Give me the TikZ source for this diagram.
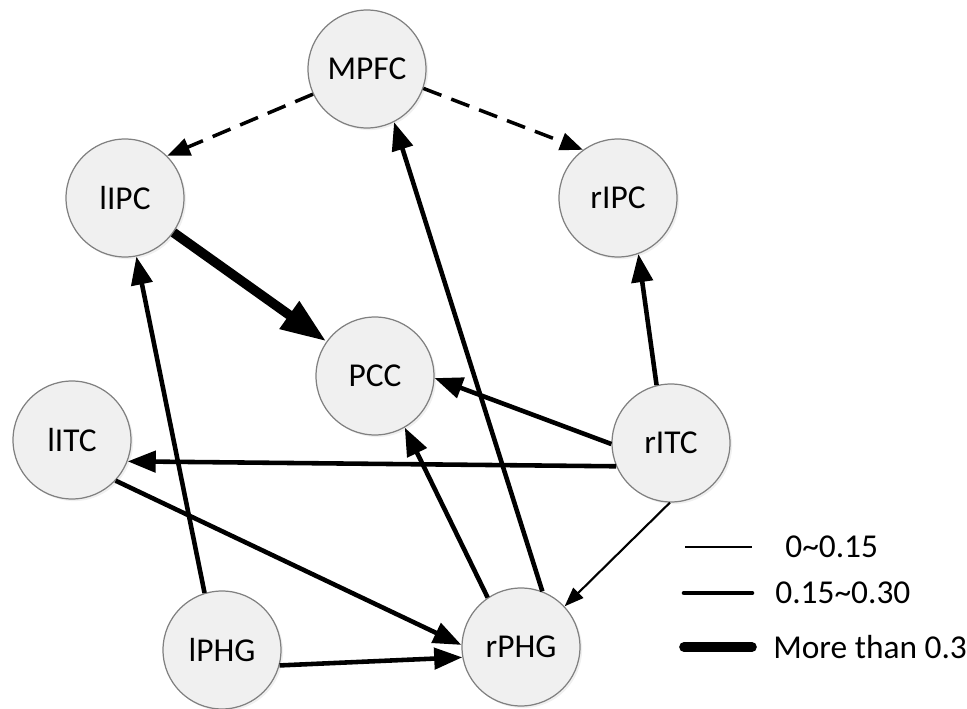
\documentclass[tikz,border=0pt]{standalone}
\usepackage{fontspec}
\setmainfont{Carlito}
\usetikzlibrary{arrows.meta}
\usetikzlibrary{shadows}

\begin{document}
\begin{tikzpicture}[%%
  x=0.02cm,y=-0.02cm,%%
  regionStyle/.style={circle,draw=black!50,fill=black!6,line width=0.7pt,%%
    minimum size=2.36cm,inner sep=0pt,font=\fontsize{19}{23}\selectfont,%%
    drop shadow={opacity=0.12,shadow xshift=1.2pt,shadow yshift=-1.2pt}},%%
  thinStyle/.style={line width=1.2pt,-{Triangle[length=11pt,width=8pt]}},%%
  midStyle/.style={line width=2.6pt,-{Triangle[length=16pt,width=12pt]}},%%
  thickStyle/.style={line width=5.5pt,-{Triangle[length=26pt,width=18pt]}},%%
  dashStyle/.style={line width=2pt,dash pattern=on 11pt off 6pt,%%
    -{Triangle[length=13pt,width=10pt]}},%%
  legendStyle/.style={anchor=west,inner sep=0pt,font=\fontsize{19}{23}\selectfont}%%
]
%%
\useasboundingbox (0,0) rectangle (967,709);
%%
%% The regions.
\node[regionStyle] (MPFC) at (367,69) {MPFC};
\node[regionStyle] (lIPC) at (125,198) {lIPC};
\node[regionStyle] (rIPC) at (618,198) {rIPC};
\node[regionStyle] (PCC) at (375,376) {PCC};
\node[regionStyle] (lITC) at (72,440) {lITC};
\node[regionStyle] (rITC) at (671,443) {rITC};
\node[regionStyle] (lPHG) at (222,650) {lPHG};
\node[regionStyle] (rPHG) at (521,647) {rPHG};
%%
%% Dashed links from MPFC.
\draw[dashStyle] (MPFC.205) -- (lIPC.45);
\draw[dashStyle] (MPFC.-19) -- (rIPC.126);
%% The strongest link.
\draw[thickStyle] (lIPC) -- (PCC);
%% Links of middle strength.
\draw[midStyle] (lPHG.107) -- (lIPC.-79);
\draw[midStyle] (rPHG.69) -- (MPFC.-63);
\draw[midStyle] (rPHG.124) -- (PCC.-60);
\draw[midStyle] (rITC.104) -- (rIPC.-70);
\draw[midStyle] (rITC.181) -- (PCC.-2);
\draw[midStyle] (rITC.203) -- (lITC.-21);
\draw[midStyle] (lITC.-43) -- (rPHG.178);
\draw[midStyle] (lPHG.-15) -- (rPHG.190);
%% The weak link.
\draw[thinStyle] (rITC.-91) -- (rPHG.43);
%%
%% Legend.
\coordinate (thinA) at (685,547);
\coordinate (thinB) at (752,547);
\coordinate (midA) at (684,593);
\coordinate (midB) at (752,593);
\coordinate (thickA) at (684,647);
\coordinate (thickB) at (752,647);
\draw[line width=1.2pt] (thinA) -- (thinB);
\draw[line width=2.6pt,line cap=round] (midA) -- (midB);
\draw[line width=5.5pt,line cap=round] (thickA) -- (thickB);
\node[legendStyle] (thinText) at (785,547) {0\textasciitilde0.15};
\node[legendStyle] (midText) at (775,593) {0.15\textasciitilde0.30};
\node[legendStyle] (thickText) at (773,647) {More than 0.3};
\end{tikzpicture}
\end{document}
